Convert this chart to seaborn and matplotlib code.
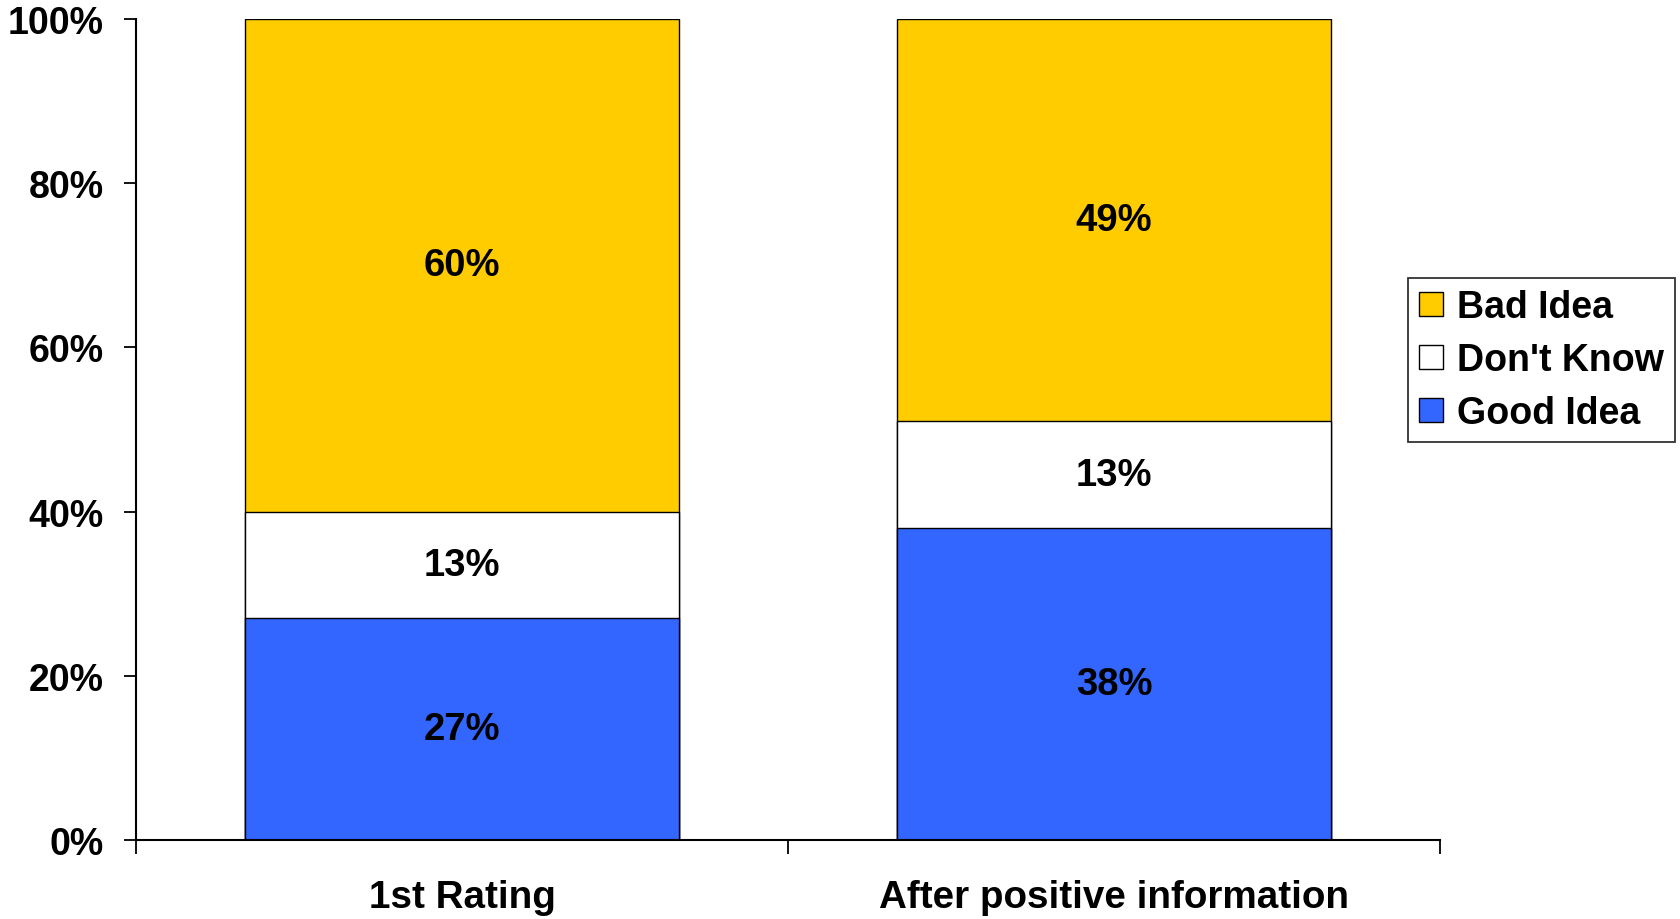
import matplotlib
matplotlib.use("Agg")
import matplotlib.pyplot as plt
from matplotlib.patches import Patch
from matplotlib.ticker import FixedLocator
import seaborn as sns
import pandas as pd
import numpy as np

# Survey responses, percent of respondents
categories = ["1st Rating", "After positive information"]
good_idea = [27, 38]
dont_know = [13, 13]
bad_idea = [60, 49]
series_names = ["Good Idea", "Don't Know", "Bad Idea"]
series_colors = ["#3366FF", "#FFFFFF", "#FFCC00"]
y_ticks = [0, 20, 40, 60, 80, 100]

sns.set_theme(style="white")
plt.rcParams["font.family"] = ["Liberation Sans", "DejaVu Sans"]
plt.rcParams["font.weight"] = "bold"
plt.rcParams["text.color"] = "black"

fig = plt.figure(figsize=(16.81, 9.2), dpi=100)
ax = fig.add_axes([0.0809, 0.0859, 0.7757, 0.8923])

stack = np.array([good_idea, dont_know, bad_idea], dtype=float)
tops = np.cumsum(stack, axis=0)
bottoms = tops - stack

# Stacked bars: draw cumulative heights from tallest down so each layer shows
for i in reversed(range(len(series_names))):
    df = pd.DataFrame({"category": categories, "value": tops[i]})
    sns.barplot(data=df, x="category", y="value", order=categories,
                color=series_colors[i], saturation=1, width=0.667,
                edgecolor="black", linewidth=1.0, ax=ax, errorbar=None)

# Value labels at segment centres
for i in range(len(series_names)):
    for j in range(len(categories)):
        ax.text(j, bottoms[i, j] + stack[i, j] / 2, f"{int(stack[i, j])}%",
                ha="center", va="center", fontsize=27.5, fontweight="bold",
                color="black")

ax.set_xlim(-0.5, len(categories) - 0.5)
ax.set_ylim(0, 100)
ax.set_yticks(y_ticks)
ax.set_yticklabels([f"{t}%" for t in y_ticks])
ax.set_xlabel("")
ax.set_ylabel("")

ax.tick_params(axis="y", which="major", direction="out", length=9, width=1.3,
               color="black", labelsize=27, pad=14, left=True)
ax.tick_params(axis="x", which="major", length=0, labelsize=27.8, pad=28)
ax.xaxis.set_minor_locator(FixedLocator([-0.5, 0.5, 1.5]))
ax.tick_params(axis="x", which="minor", direction="out", length=10, width=1.3,
               color="black", bottom=True)
for lab in ax.get_xticklabels() + ax.get_yticklabels():
    lab.set_fontweight("bold")
    lab.set_color("black")

for side in ["top", "right"]:
    ax.spines[side].set_visible(False)
for side in ["left", "bottom"]:
    ax.spines[side].set_color("black")
    ax.spines[side].set_linewidth(1.5)
ax.grid(False)

handles = [Patch(facecolor=series_colors[i], edgecolor="black", linewidth=1.0,
                 label=series_names[i]) for i in reversed(range(len(series_names)))]
leg = fig.legend(handles=handles, loc="upper left",
                 bbox_to_anchor=(0.8376, 0.6967), bbox_transform=fig.transFigure,
                 borderaxespad=0, fancybox=False, frameon=True,
                 handlelength=0.62, handleheight=0.62, handletextpad=0.38,
                 labelspacing=0.45, borderpad=0.3,
                 prop={"weight": "bold", "size": 27})
leg.get_frame().set_edgecolor("black")
leg.get_frame().set_linewidth(1.3)
for t in leg.get_texts():
    t.set_color("black")

fig.savefig("out.png", dpi=100)
